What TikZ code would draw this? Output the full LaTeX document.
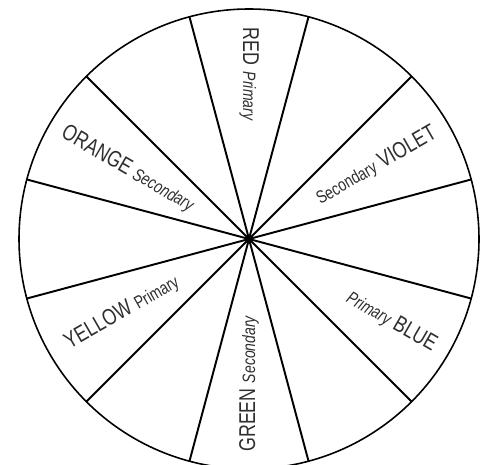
\documentclass[tikz,border=0pt]{standalone}
\usepackage{fontspec}
\setmainfont{Liberation Sans}[FakeStretch=0.78]
\usetikzlibrary{calc}
\definecolor{inkgray}{HTML}{2E2E2E}
\newcommand{\colword}[1]{{\fontsize{13}{15}\selectfont #1}}
\newcommand{\kindword}[1]{{\fontsize{10.2}{12}\selectfont #1}}
\tikzset{
  rim/.style={draw, line width=0.9pt},
  spoke/.style={line width=1.1pt},
  lbl/.style={text=inkgray, inner sep=0pt},
  inward/.style={lbl, anchor=west},
  outward/.style={lbl, anchor=east},
}

\begin{document}
\begin{tikzpicture}
  \useasboundingbox (0,0) rectangle (9.7,9.3);
  \coordinate (c) at (4.98,4.52);

  % spokes and rim
  \foreach \a in {15,45,...,345}
    \draw[spoke] (c) -- ($(c)+(\a:4.6)$);
  \draw[rim] (c) circle (4.6);

  % labels, read from the rim inwards
  \node[inward, rotate=-90] (red) at ($(c)+(90:4.24)$)
    {\colword{RED}\hspace{4pt}\kindword{\itshape Primary}};
  \node[inward, rotate=-30] (orange) at ($(c)+(150:4.30)$)
    {\colword{ORANGE}\hspace{3pt}\kindword{\itshape Secondary}};
  \node[inward, rotate=30] (yellow) at ($(c)+(210:4.22)$)
    {\colword{YELLOW}\hspace{3pt}\kindword{Primary}};
  \node[inward, rotate=90] (green) at ($(c)+(270:4.26)$)
    {\colword{GREEN}\hspace{3pt}\kindword{\itshape Secondary}};

  % labels, read towards the rim
  \node[outward, rotate=30] (violet) at ($(c)+(30:4.30)$)
    {\kindword{Secondary}\hspace{3pt}\colword{VIOLET}};
  \node[outward, rotate=-30] (blue) at ($(c)+(330:4.30)$)
    {\kindword{\itshape Primary}\hspace{3pt}\colword{BLUE}};
\end{tikzpicture}
\end{document}
